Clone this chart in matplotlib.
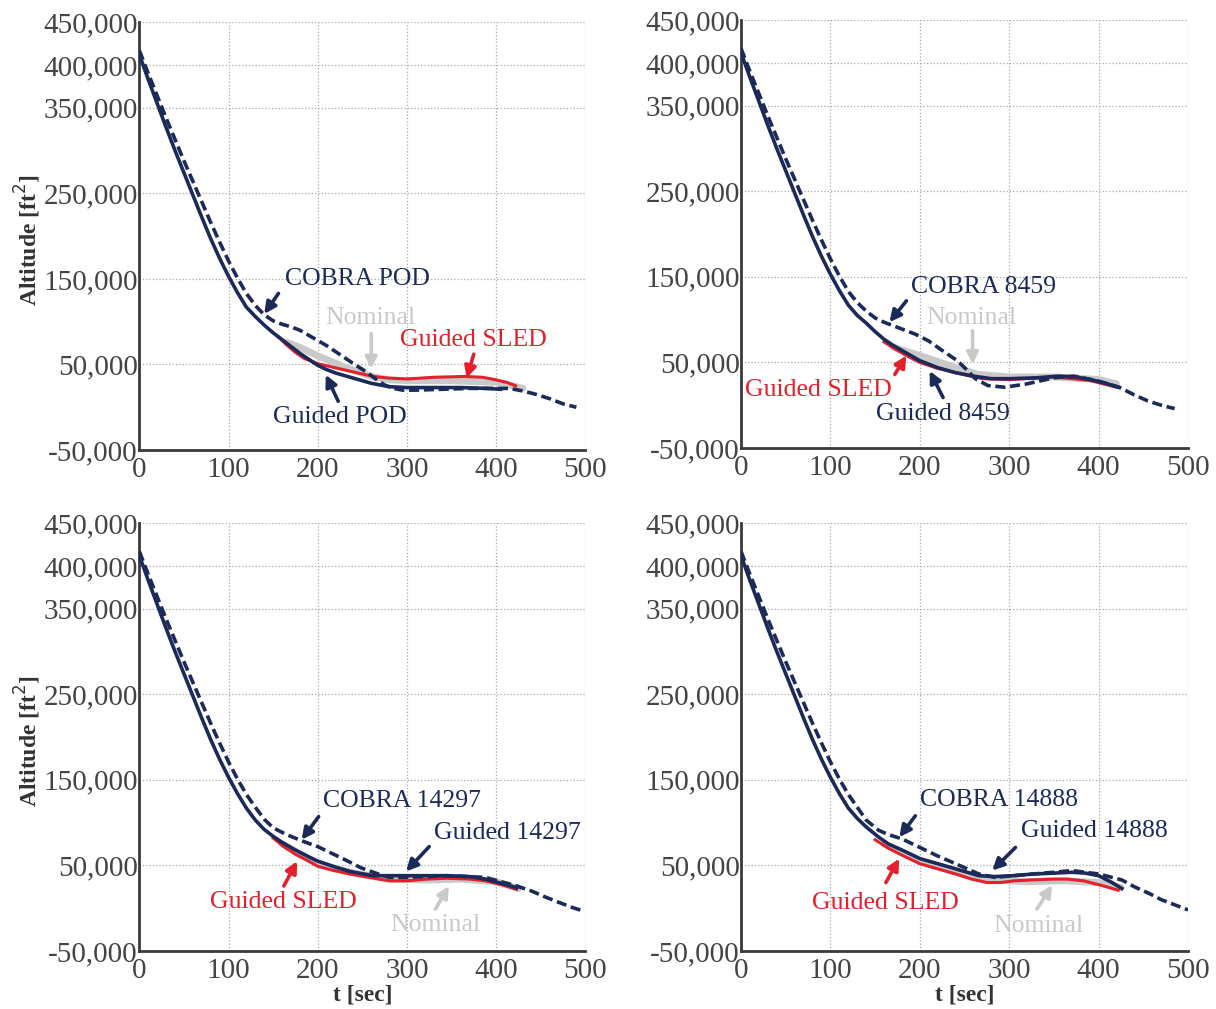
import numpy as np
import matplotlib
matplotlib.use("Agg")
import matplotlib.pyplot as plt
from matplotlib.ticker import FixedLocator

plt.rcParams['font.family'] = ['Liberation Serif', 'DejaVu Serif']

NAVY = '#1c2a5a'
RED = '#e3202b'
GREY = '#c9c9c9'
TICKC = '#444444'

# axis ticks
x_ticks = [0, 100, 200, 300, 400, 500]
y_ticks = [-50000, 50000, 150000, 250000, 350000, 400000, 450000]
y_labels = ['-50,000', '50,000', '150,000', '250,000', '350,000', '400,000', '450,000']

# first 120 s look the same in all four runs (altitude in 1000 ft)
early_t = [0, 10, 20, 30, 40, 50, 60, 70, 80, 90, 100, 110, 120]
early_guided = [412, 383, 355, 327, 300, 274, 248, 222, 197, 174, 153, 134, 117]
early_cobra = [417, 390, 364, 338, 313, 288, 264, 240, 216, 193, 171, 151, 133]

# ---- top left: POD ----
tl_pod_t = [130, 140, 150, 160, 170, 180, 190, 200, 210, 220, 240, 260, 280, 300, 330, 360, 390, 405]
tl_pod_h = [106, 96, 87, 79, 71, 63, 56, 49, 44, 40, 34, 28, 24, 23, 23, 23, 22, 21]
tl_cobra_t = [130, 140, 150, 160, 170, 180, 190, 200, 210, 220, 230, 240, 255, 265, 275, 285, 295, 310, 340, 370, 400, 415, 430, 445, 460, 475, 490]
tl_cobra_h = [119, 108, 101, 97, 94, 90, 84, 78, 72, 65, 58, 51, 41, 33, 26, 22, 20, 20, 21, 22, 22, 22, 19, 15, 10, 4, 0]
tl_sled_t = [155, 165, 175, 185, 200, 220, 245, 262, 280, 300, 330, 365, 385, 400, 412, 422]
tl_sled_h = [83, 73, 64, 57, 51, 46, 40, 36, 34, 33, 35, 36, 35, 32, 29, 25]
tl_nom_t = [165, 180, 200, 230, 260, 280, 300, 350, 400, 415, 430]
tl_nom_h = [76, 70, 60, 47, 36, 32, 31, 31, 29, 26, 22]

# ---- top right: 8459 ----
tr_g_t = [130, 140, 150, 160, 170, 180, 190, 200, 220, 240, 260, 280, 300, 330, 355, 375, 395, 410, 422]
tr_g_h = [105, 96, 86, 77, 70, 64, 58, 52, 44, 38, 34, 31, 31, 32, 34, 33, 29, 25, 21]
tr_cobra_t = [130, 140, 150, 160, 170, 180, 195, 210, 225, 242, 252, 262, 276, 295, 320, 350, 372, 397, 423, 440, 455, 470, 485]
tr_cobra_h = [120, 110, 102, 97, 93, 89, 83, 75, 64, 52, 42, 31, 23, 21, 25, 32, 34, 29, 21, 12, 5, 0, -4]
tr_sled_t = [160, 172, 185, 200, 220, 240, 270, 300, 350, 390, 420]
tr_sled_h = [74, 66, 58, 50, 43, 38, 31, 30, 33, 29, 21]
tr_nom_t = [170, 185, 200, 220, 240, 265, 300, 350, 400, 420]
tr_nom_h = [68, 63, 58, 51, 44, 36, 33, 33, 30, 25]

# ---- bottom left: 14297 ----
bl_g_t = [130, 140, 150, 160, 175, 190, 200, 220, 236, 262, 300, 345, 370, 388, 410, 423]
bl_g_h = [103, 92, 84, 77, 68, 60, 55, 48, 43, 38, 38, 38, 37, 34, 28, 24]
bl_cobra_t = [130, 140, 150, 165, 184, 200, 214, 230, 249, 265, 280, 300, 345, 388, 423, 440, 453, 470, 485, 497]
bl_cobra_h = [118, 104, 94, 86, 78, 72, 65, 57, 47, 41, 36, 36, 38, 36, 26, 20, 14, 7, 1, -3]
bl_sled_t = [150, 162, 175, 188, 200, 218, 236, 258, 280, 300, 323, 345, 370, 388, 408, 423]
bl_sled_h = [82, 72, 63, 56, 49, 44, 40, 36, 32, 32, 34, 35, 34, 32, 27, 22]
bl_nom_t = [160, 200, 240, 280, 320, 360, 400, 425]
bl_nom_h = [75, 52, 41, 34, 33, 34, 31, 23]

# ---- bottom right: 14888 ----
br_g_t = [130, 140, 154, 165, 180, 190, 200, 220, 240, 266, 284, 305, 327, 350, 370, 385, 400, 415, 426]
br_g_h = [105, 95, 83, 75, 68, 63, 58, 52, 46, 38, 37, 38, 40, 41, 42, 41, 38, 30, 23]
br_cobra_t = [130, 140, 154, 165, 180, 200, 220, 240, 266, 284, 305, 327, 350, 370, 400, 426, 440, 457, 470, 485, 500]
br_cobra_h = [118, 103, 91, 86, 81, 71, 61, 52, 40, 36, 38, 40, 42, 44, 40, 33, 25, 17, 10, 4, -2]
br_sled_t = [150, 165, 180, 190, 200, 220, 240, 258, 275, 290, 305, 325, 348, 365, 383, 402, 422]
br_sled_h = [80, 70, 62, 57, 52, 46, 40, 34, 30, 30, 32, 33, 34, 34, 32, 27, 21]
br_nom_t = [160, 200, 240, 280, 320, 360, 400, 425]
br_nom_h = [75, 55, 42, 33, 31, 32, 30, 24]


fig = plt.figure(figsize=(12.16, 10.09), dpi=100)
ax_tl = fig.add_axes([0.1146, 0.554, 0.3667, 0.424])
ax_tr = fig.add_axes([0.6094, 0.556, 0.3676, 0.424])
ax_bl = fig.add_axes([0.1146, 0.0575, 0.3667, 0.424])
ax_br = fig.add_axes([0.6094, 0.0575, 0.3676, 0.424])


def k(v):
    return np.array(v) * 1000.0


def setup(ax):
    ax.set_xlim(0, 500)
    ax.set_ylim(-50000, 450000)
    ax.xaxis.set_major_locator(FixedLocator(x_ticks))
    ax.set_yticks(y_ticks)
    ax.set_yticklabels(y_labels)
    ax.grid(True, color='#a8a8a8', linestyle=':', linewidth=0.9)
    ax.set_axisbelow(True)
    for s in ['top', 'right']:
        ax.spines[s].set_visible(False)
    for s in ['left', 'bottom']:
        ax.spines[s].set_linewidth(2.0)
        ax.spines[s].set_color('#3a3a3a')
    ax.tick_params(axis='both', direction='in', length=0, labelsize=21,
                   labelcolor=TICKC)
    ax.tick_params(axis='y', pad=1)
    ax.tick_params(axis='x', pad=5)


def curves(ax, g_t, g_h, c_t, c_h, s_t, s_h, n_t, n_h):
    gt = early_t + g_t
    gh = early_guided + g_h
    ct = early_t + c_t
    ch = early_cobra + c_h
    ax.plot(n_t, k(n_h), color=GREY, lw=5, solid_capstyle='round', zorder=2)
    ax.plot(s_t, k(s_h), color=RED, lw=2.2, zorder=3)
    ax.plot(gt, k(gh), color=NAVY, lw=2.6, zorder=4)
    ax.plot(ct, k(ch), color=NAVY, lw=2.6, ls=(0, (2.8, 1.3)), zorder=5)


def note(ax, text, color, xy_text, xy_tail, xy_head):
    ax.text(xy_text[0], xy_text[1] * 1000, text, color=color, fontsize=18.5,
            ha='center', va='center', zorder=6)
    ax.annotate('', xy=(xy_head[0], xy_head[1] * 1000),
                xytext=(xy_tail[0], xy_tail[1] * 1000),
                arrowprops=dict(arrowstyle='-|>', color=color, lw=2.6,
                                mutation_scale=17, shrinkA=0, shrinkB=0),
                zorder=6)


for ax in [ax_tl, ax_tr, ax_bl, ax_br]:
    setup(ax)

curves(ax_tl, tl_pod_t, tl_pod_h, tl_cobra_t, tl_cobra_h, tl_sled_t, tl_sled_h, tl_nom_t, tl_nom_h)
curves(ax_tr, tr_g_t, tr_g_h, tr_cobra_t, tr_cobra_h, tr_sled_t, tr_sled_h, tr_nom_t, tr_nom_h)
curves(ax_bl, bl_g_t, bl_g_h, bl_cobra_t, bl_cobra_h, bl_sled_t, bl_sled_h, bl_nom_t, bl_nom_h)
curves(ax_br, br_g_t, br_g_h, br_cobra_t, br_cobra_h, br_sled_t, br_sled_h, br_nom_t, br_nom_h)

# annotations
note(ax_tl, 'COBRA POD', NAVY, (244, 150), (156, 133), (140, 109))
note(ax_tl, 'Nominal', GREY, (259, 104), (260, 86), (260, 45))
note(ax_tl, 'Guided SLED', RED, (375, 78), (375, 62), (367, 34))
note(ax_tl, 'Guided POD', NAVY, (225, -11), (223, 7), (209, 38))

note(ax_tr, 'COBRA 8459', NAVY, (271, 138), (185, 122), (166, 97))
note(ax_tr, 'Nominal', GREY, (258, 102), (259, 87), (259, 48))
note(ax_tr, 'Guided SLED', RED, (86, 18), (172, 36), (185, 58))
note(ax_tr, 'Guided 8459', NAVY, (226, -10), (226, 9), (211, 40))

note(ax_bl, 'COBRA 14297', NAVY, (294, 125), (201, 107), (182, 80))
note(ax_bl, 'Guided 14297', NAVY, (413, 88), (325, 72), (299, 43))
note(ax_bl, 'Guided SLED', RED, (161, 7), (162, 26), (177, 55))
note(ax_bl, 'Nominal', GREY, (332, -20), (332, -1), (347, 26))

note(ax_br, 'COBRA 14888', NAVY, (288, 126), (195, 108), (177, 83))
note(ax_br, 'Guided 14888', NAVY, (395, 90), (307, 71), (281, 44))
note(ax_br, 'Guided SLED', RED, (161, 6), (162, 30), (177, 58))
note(ax_br, 'Nominal', GREY, (333, -21), (331, -1), (348, 27))

for ax in [ax_tl, ax_bl]:
    ax.set_ylabel('Altitude [ft$^2$]', fontsize=17, fontweight='bold',
                  color='#333333')
    ax.yaxis.set_label_coords(-0.215, 0.49)
for ax in [ax_bl, ax_br]:
    ax.set_xlabel('t [sec]', fontsize=17, fontweight='bold', color='#333333')
    ax.xaxis.set_label_coords(0.5, -0.078)

fig.savefig('out.png', dpi=100)
